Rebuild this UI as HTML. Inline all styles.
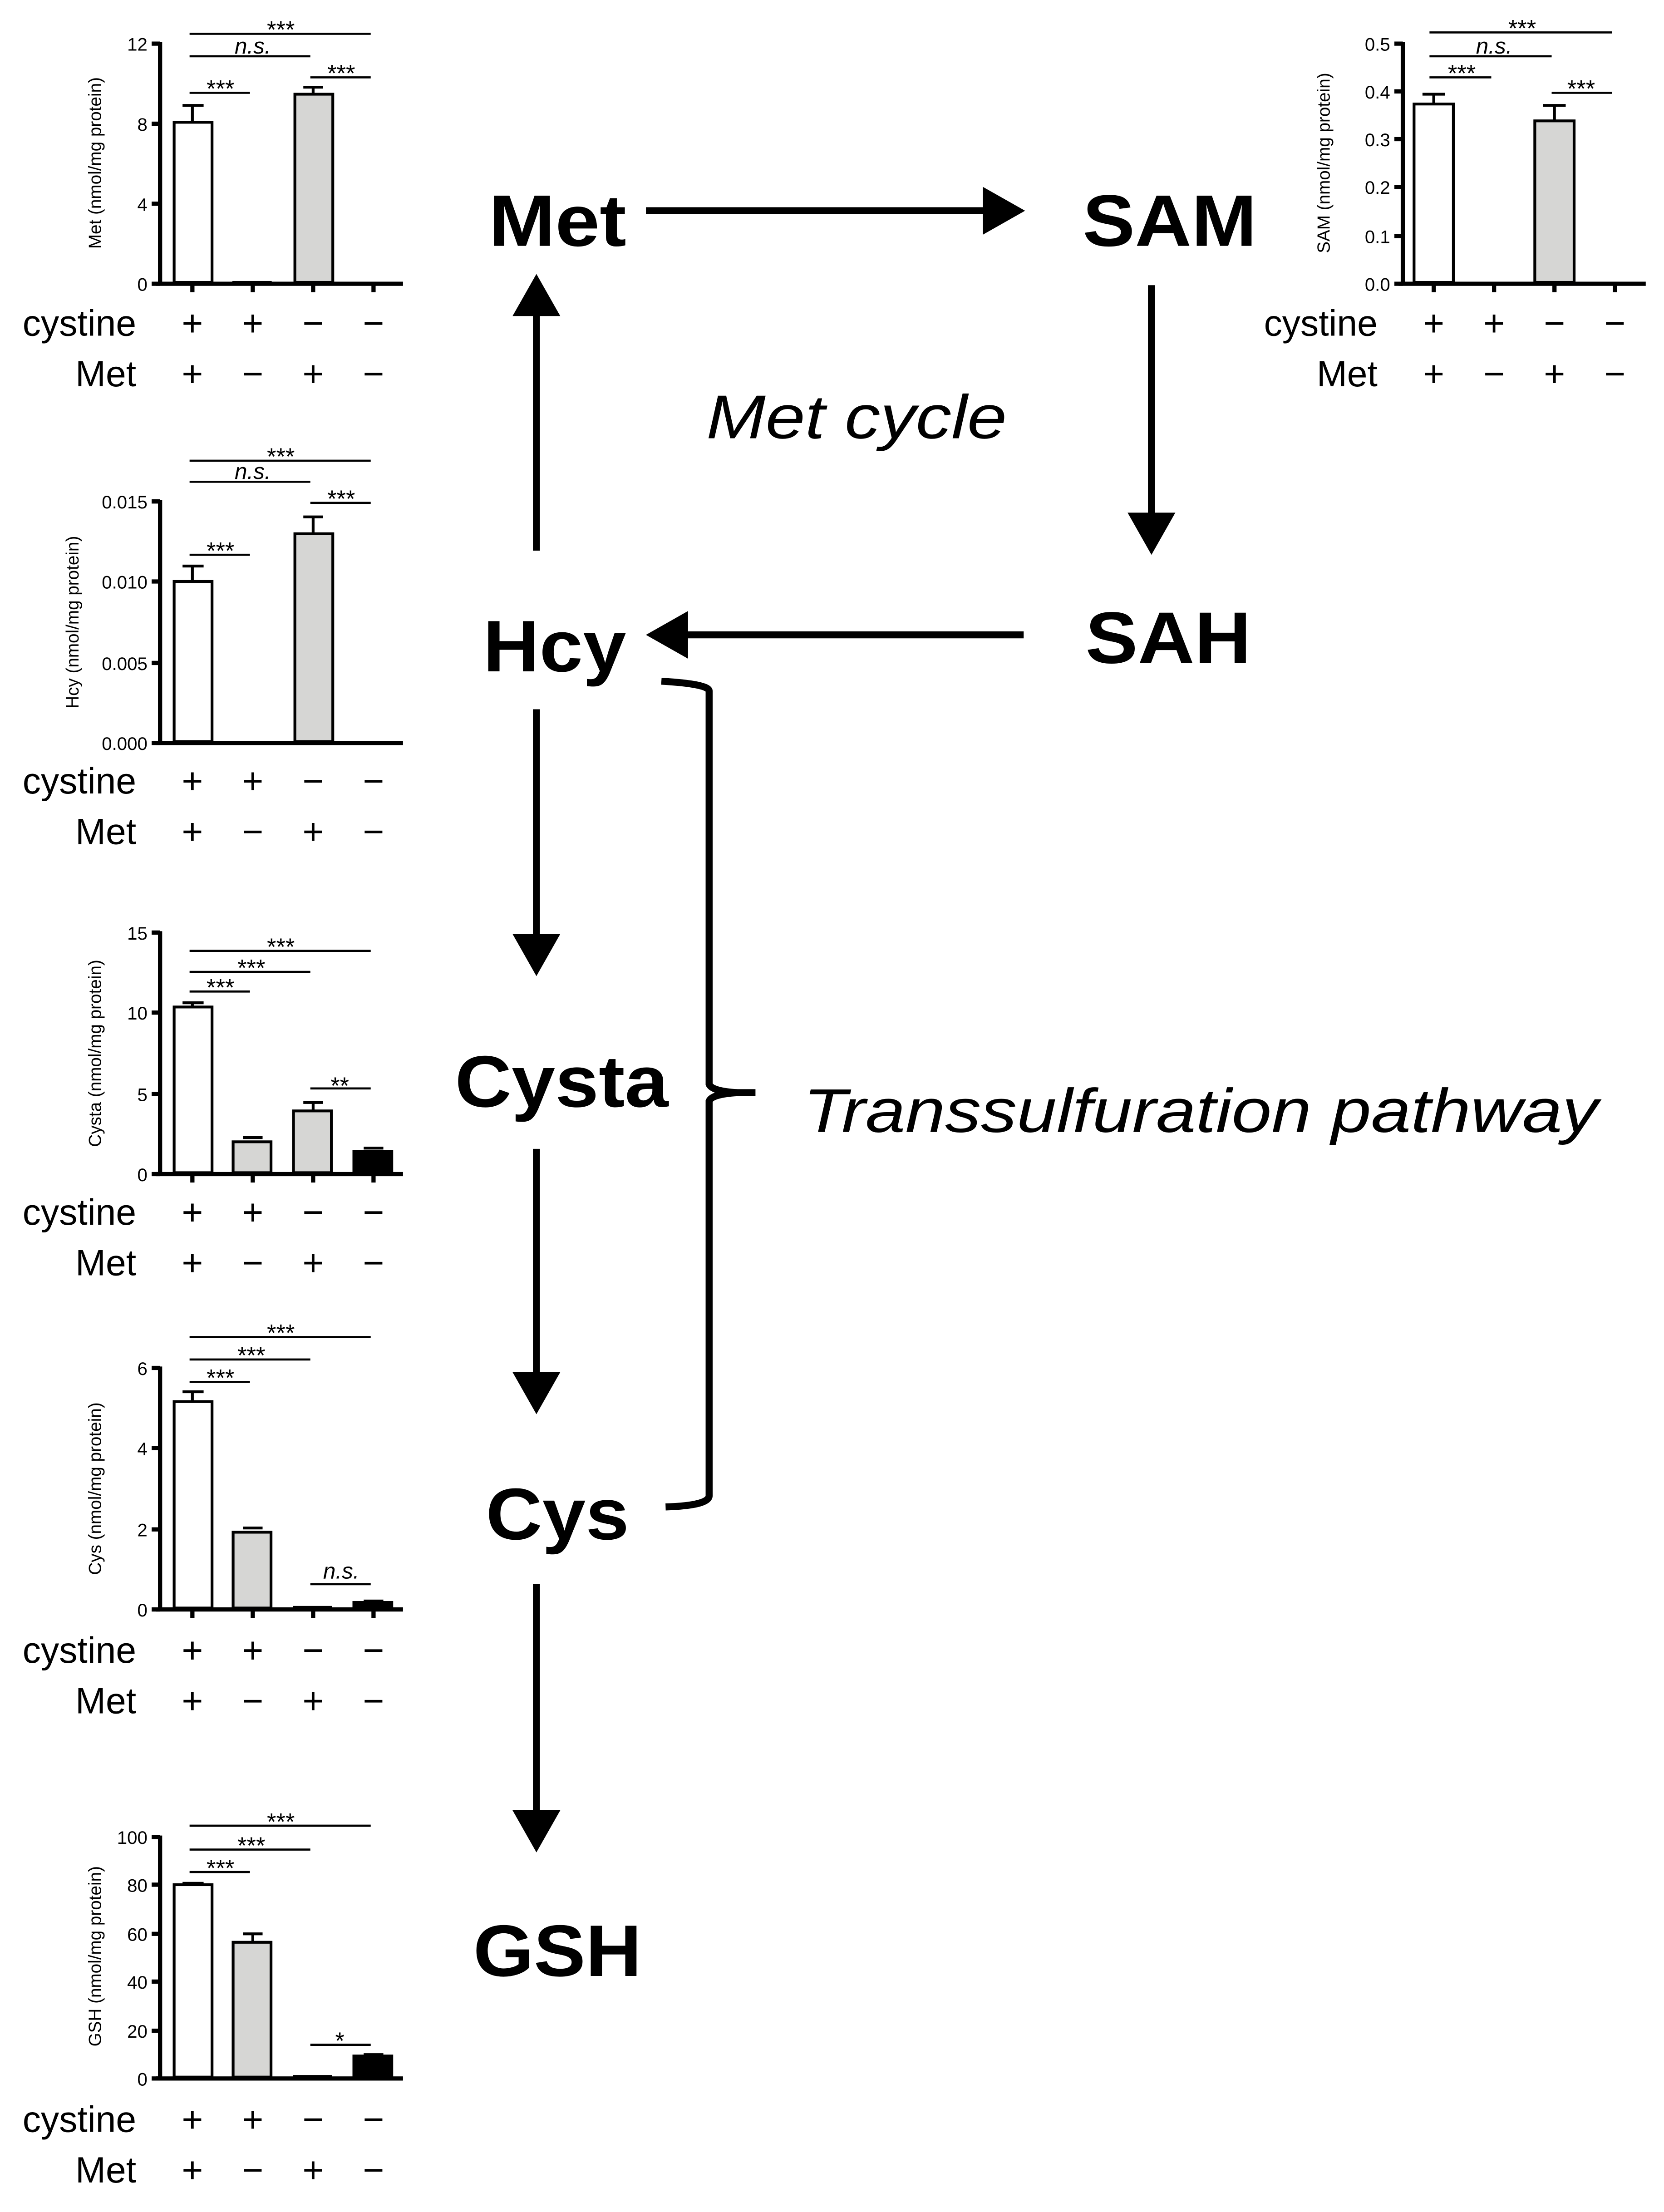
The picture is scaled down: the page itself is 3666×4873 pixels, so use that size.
<!DOCTYPE html>
<html><head><meta charset="utf-8"><style>html,body{margin:0;padding:0;background:#fff}svg{display:block}</style></head>
<body>
<svg xmlns="http://www.w3.org/2000/svg" width="3666" height="4873" viewBox="0 0 1185 1575" font-family="'Liberation Sans', Arial, sans-serif">
<rect width="1185" height="1575" fill="#fff"/>
<defs>
<marker id="ah" viewBox="0 0 10 10" refX="9" refY="5" markerWidth="6" markerHeight="6" markerUnits="strokeWidth" orient="auto"><path d="M0,0 L10,5 L0,10 z" fill="#000"/></marker>
</defs>

<!-- Pathway -->
<g font-weight="bold" font-size="52" text-anchor="middle" fill="#000">
<text x="397" y="175" textLength="98" lengthAdjust="spacingAndGlyphs">Met</text>
<text x="833" y="175" textLength="124" lengthAdjust="spacingAndGlyphs">SAM</text>
<text x="395" y="478" textLength="102" lengthAdjust="spacingAndGlyphs">Hcy</text>
<text x="832" y="472" textLength="118" lengthAdjust="spacingAndGlyphs">SAH</text>
<text x="400" y="788" textLength="152" lengthAdjust="spacingAndGlyphs">Cysta</text>
<text x="397" y="1096" textLength="102" lengthAdjust="spacingAndGlyphs">Cys</text>
<text x="397" y="1407" textLength="120" lengthAdjust="spacingAndGlyphs">GSH</text>
</g>
<g font-style="italic" font-size="44" fill="#000">
<text x="610" y="312" text-anchor="middle" textLength="214" lengthAdjust="spacingAndGlyphs">Met cycle</text>
<text x="572" y="806" textLength="566" lengthAdjust="spacingAndGlyphs">Transsulfuration pathway</text>
</g>
<g stroke="#000" stroke-width="5" fill="none">
<line x1="460" y1="150" x2="703" y2="150"/>
<line x1="820" y1="203" x2="820" y2="368"/>
<line x1="729" y1="452" x2="486" y2="452"/>
<line x1="382" y1="392" x2="382" y2="222"/>
<line x1="382" y1="505" x2="382" y2="668"/>
<line x1="382" y1="818" x2="382" y2="980"/>
<line x1="382" y1="1128" x2="382" y2="1292"/>
<path d="M471,485 Q505,487 505,492 L505,772 Q507,777 525,778 Q507,779 505,784 L505,1065 Q505,1072 474,1073" stroke-width="5"/>
<line x1="520" y1="778" x2="538" y2="778"/>
</g>
<g fill="#000">
<path d="M700,133 L730,150 L700,167 z"/>
<path d="M803,365 L820,395 L837,365 z"/>
<path d="M490,435 L460,452 L490,469 z"/>
<path d="M365,225 L382,195 L399,225 z"/>
<path d="M365,665 L382,695 L399,665 z"/>
<path d="M365,977 L382,1007 L399,977 z"/>
<path d="M365,1289 L382,1319 L399,1289 z"/>
</g>

<!-- ============ Chart 1: Met ============ -->
<g>
<g stroke="#000" fill="none">
<line x1="114" y1="30" x2="114" y2="202" stroke-width="3"/>
<line x1="111" y1="202" x2="287" y2="202" stroke-width="3"/>
<g stroke-width="3"><line x1="108" y1="31" x2="114" y2="31"/><line x1="108" y1="88" x2="114" y2="88"/><line x1="108" y1="145" x2="114" y2="145"/><line x1="108" y1="202" x2="114" y2="202"/>
<line x1="137" y1="202" x2="137" y2="208"/><line x1="180" y1="202" x2="180" y2="208"/><line x1="223" y1="202" x2="223" y2="208"/><line x1="266" y1="202" x2="266" y2="208"/></g>
<rect x="124" y="87" width="27" height="114" fill="#fff" stroke-width="2"/>
<line x1="137" y1="87" x2="137" y2="75" stroke-width="2"/><line x1="130" y1="75" x2="145" y2="75" stroke-width="2"/>
<rect x="166" y="200.5" width="27" height="1" fill="#000" stroke-width="1"/>
<rect x="210" y="67" width="27" height="134" fill="#d6d6d4" stroke-width="2"/>
<line x1="223" y1="67" x2="223" y2="62" stroke-width="2"/><line x1="216" y1="62" x2="230" y2="62" stroke-width="2"/>
<g stroke-width="1.5"><line x1="135" y1="24" x2="264" y2="24"/><line x1="135" y1="40" x2="221" y2="40"/><line x1="135" y1="66" x2="178" y2="66"/><line x1="221" y1="55" x2="264" y2="55"/></g>
</g>
<g font-size="13" text-anchor="end"><text x="105" y="36">12</text><text x="105" y="93">8</text><text x="105" y="150">4</text><text x="105" y="207">0</text></g>
<text transform="translate(72,116) rotate(-90)" font-size="12.5" text-anchor="middle">Met (nmol/mg protein)</text>
<g font-size="17" text-anchor="middle"><text x="200" y="27">***</text><text x="180" y="38" font-style="italic" font-size="16">n.s.</text><text x="157" y="69">***</text><text x="243" y="58">***</text></g>
<g font-size="26"><text x="97" y="239" text-anchor="end">cystine</text><text x="97" y="275" text-anchor="end">Met</text>
<g text-anchor="middle"><text x="137" y="239">+</text><text x="180" y="239">+</text><text x="223" y="239">−</text><text x="266" y="239">−</text>
<text x="137" y="275">+</text><text x="180" y="275">−</text><text x="223" y="275">+</text><text x="266" y="275">−</text></g></g>
</g>

<!-- ============ Chart 2: Hcy ============ -->
<g>
<g stroke="#000" fill="none">
<line x1="114" y1="356" x2="114" y2="529" stroke-width="3"/>
<line x1="111" y1="529" x2="287" y2="529" stroke-width="3"/>
<g stroke-width="3"><line x1="108" y1="357" x2="114" y2="357"/><line x1="108" y1="414" x2="114" y2="414"/><line x1="108" y1="472" x2="114" y2="472"/><line x1="108" y1="529" x2="114" y2="529"/></g>
<rect x="124" y="414" width="27" height="114" fill="#fff" stroke-width="2"/>
<line x1="137" y1="414" x2="137" y2="403" stroke-width="2"/><line x1="130" y1="403" x2="145" y2="403" stroke-width="2"/>
<rect x="210" y="380" width="27" height="148" fill="#d6d6d4" stroke-width="2"/>
<line x1="223" y1="380" x2="223" y2="368" stroke-width="2"/><line x1="216" y1="368" x2="230" y2="368" stroke-width="2"/>
<g stroke-width="1.5"><line x1="135" y1="328" x2="264" y2="328"/><line x1="135" y1="343" x2="221" y2="343"/><line x1="135" y1="395" x2="178" y2="395"/><line x1="221" y1="358" x2="264" y2="358"/></g>
</g>
<g font-size="13" text-anchor="end"><text x="105" y="362">0.015</text><text x="105" y="419">0.010</text><text x="105" y="477">0.005</text><text x="105" y="534">0.000</text></g>
<text transform="translate(56,443) rotate(-90)" font-size="12.5" text-anchor="middle">Hcy (nmol/mg protein)</text>
<g font-size="17" text-anchor="middle"><text x="200" y="331">***</text><text x="180" y="341" font-style="italic" font-size="16">n.s.</text><text x="157" y="398">***</text><text x="243" y="361">***</text></g>
<g font-size="26"><text x="97" y="565" text-anchor="end">cystine</text><text x="97" y="601" text-anchor="end">Met</text>
<g text-anchor="middle"><text x="137" y="565">+</text><text x="180" y="565">+</text><text x="223" y="565">−</text><text x="266" y="565">−</text>
<text x="137" y="601">+</text><text x="180" y="601">−</text><text x="223" y="601">+</text><text x="266" y="601">−</text></g></g>
</g>

<!-- ============ Chart 3: Cysta ============ -->
<g>
<g stroke="#000" fill="none">
<line x1="114" y1="663" x2="114" y2="836" stroke-width="3"/>
<line x1="111" y1="836" x2="287" y2="836" stroke-width="3"/>
<g stroke-width="3"><line x1="108" y1="664" x2="114" y2="664"/><line x1="108" y1="721" x2="114" y2="721"/><line x1="108" y1="779" x2="114" y2="779"/><line x1="108" y1="836" x2="114" y2="836"/>
<line x1="137" y1="836" x2="137" y2="842"/><line x1="180" y1="836" x2="180" y2="842"/><line x1="223" y1="836" x2="223" y2="842"/><line x1="266" y1="836" x2="266" y2="842"/></g>
<rect x="124" y="717" width="27" height="118" fill="#fff" stroke-width="2"/>
<line x1="137" y1="717" x2="137" y2="714" stroke-width="2"/><line x1="130" y1="714" x2="145" y2="714" stroke-width="2"/>
<rect x="166" y="813" width="27" height="22" fill="#d6d6d4" stroke-width="2"/>
<line x1="173" y1="810" x2="187" y2="810" stroke-width="2"/>
<rect x="209" y="791" width="27" height="44" fill="#d6d6d4" stroke-width="2"/>
<line x1="223" y1="791" x2="223" y2="785" stroke-width="2"/><line x1="216" y1="785" x2="230" y2="785" stroke-width="2"/>
<rect x="252" y="820" width="27" height="15" fill="#000" stroke-width="2"/>
<line x1="259" y1="817.5" x2="273" y2="817.5" stroke-width="2"/>
<g stroke-width="1.5"><line x1="135" y1="677" x2="264" y2="677"/><line x1="135" y1="692" x2="221" y2="692"/><line x1="135" y1="706" x2="178" y2="706"/><line x1="221" y1="775" x2="264" y2="775"/></g>
</g>
<g font-size="13" text-anchor="end"><text x="105" y="669">15</text><text x="105" y="726">10</text><text x="105" y="784">5</text><text x="105" y="841">0</text></g>
<text transform="translate(72,750) rotate(-90)" font-size="12.5" text-anchor="middle">Cysta (nmol/mg protein)</text>
<g font-size="17" text-anchor="middle"><text x="200" y="680">***</text><text x="179" y="695">***</text><text x="157" y="709">***</text><text x="242" y="779">**</text></g>
<g font-size="26"><text x="97" y="872" text-anchor="end">cystine</text><text x="97" y="908" text-anchor="end">Met</text>
<g text-anchor="middle"><text x="137" y="872">+</text><text x="180" y="872">+</text><text x="223" y="872">−</text><text x="266" y="872">−</text>
<text x="137" y="908">+</text><text x="180" y="908">−</text><text x="223" y="908">+</text><text x="266" y="908">−</text></g></g>
</g>

<!-- ============ Chart 4: Cys ============ -->
<g>
<g stroke="#000" fill="none">
<line x1="114" y1="973" x2="114" y2="1146" stroke-width="3"/>
<line x1="111" y1="1146" x2="287" y2="1146" stroke-width="3"/>
<g stroke-width="3"><line x1="108" y1="974" x2="114" y2="974"/><line x1="108" y1="1031" x2="114" y2="1031"/><line x1="108" y1="1089" x2="114" y2="1089"/><line x1="108" y1="1146" x2="114" y2="1146"/>
<line x1="137" y1="1146" x2="137" y2="1152"/><line x1="180" y1="1146" x2="180" y2="1152"/><line x1="223" y1="1146" x2="223" y2="1152"/><line x1="266" y1="1146" x2="266" y2="1152"/></g>
<rect x="124" y="998" width="27" height="147" fill="#fff" stroke-width="2"/>
<line x1="137" y1="998" x2="137" y2="991" stroke-width="2"/><line x1="130" y1="991" x2="145" y2="991" stroke-width="2"/>
<rect x="166" y="1091" width="27" height="54" fill="#d6d6d4" stroke-width="2"/>
<line x1="173" y1="1088" x2="187" y2="1088" stroke-width="2"/>
<rect x="209" y="1144" width="27" height="1" fill="#000" stroke-width="1"/>
<rect x="252" y="1141" width="27" height="4" fill="#000" stroke-width="2"/>
<line x1="259" y1="1140" x2="273" y2="1140" stroke-width="2"/>
<g stroke-width="1.5"><line x1="135" y1="952" x2="264" y2="952"/><line x1="135" y1="968" x2="221" y2="968"/><line x1="135" y1="984" x2="178" y2="984"/><line x1="221" y1="1128" x2="264" y2="1128"/></g>
</g>
<g font-size="13" text-anchor="end"><text x="105" y="979">6</text><text x="105" y="1036">4</text><text x="105" y="1094">2</text><text x="105" y="1151">0</text></g>
<text transform="translate(72,1060) rotate(-90)" font-size="12.5" text-anchor="middle">Cys (nmol/mg protein)</text>
<g font-size="17" text-anchor="middle"><text x="200" y="955">***</text><text x="179" y="971">***</text><text x="157" y="987">***</text><text x="243" y="1124" font-style="italic" font-size="16">n.s.</text></g>
<g font-size="26"><text x="97" y="1184" text-anchor="end">cystine</text><text x="97" y="1220" text-anchor="end">Met</text>
<g text-anchor="middle"><text x="137" y="1184">+</text><text x="180" y="1184">+</text><text x="223" y="1184">−</text><text x="266" y="1184">−</text>
<text x="137" y="1220">+</text><text x="180" y="1220">−</text><text x="223" y="1220">+</text><text x="266" y="1220">−</text></g></g>
</g>

<!-- ============ Chart 5: GSH ============ -->
<g>
<g stroke="#000" fill="none">
<line x1="114" y1="1307" x2="114" y2="1480" stroke-width="3"/>
<line x1="111" y1="1480" x2="287" y2="1480" stroke-width="3"/>
<g stroke-width="3"><line x1="108" y1="1308" x2="114" y2="1308"/><line x1="108" y1="1342" x2="114" y2="1342"/><line x1="108" y1="1377" x2="114" y2="1377"/><line x1="108" y1="1411" x2="114" y2="1411"/><line x1="108" y1="1446" x2="114" y2="1446"/><line x1="108" y1="1480" x2="114" y2="1480"/></g>
<rect x="124" y="1342" width="27" height="137" fill="#fff" stroke-width="2"/>
<line x1="130" y1="1341" x2="145" y2="1341" stroke-width="2"/>
<rect x="166" y="1383" width="27" height="96" fill="#d6d6d4" stroke-width="2"/>
<line x1="180" y1="1383" x2="180" y2="1377" stroke-width="2"/><line x1="173" y1="1377" x2="187" y2="1377" stroke-width="2"/>
<rect x="209" y="1478" width="27" height="1" fill="#000" stroke-width="1"/>
<rect x="252" y="1464" width="27" height="15" fill="#000" stroke-width="2"/>
<line x1="259" y1="1463" x2="273" y2="1463" stroke-width="2"/>
<g stroke-width="1.5"><line x1="135" y1="1300" x2="264" y2="1300"/><line x1="135" y1="1317" x2="221" y2="1317"/><line x1="135" y1="1333" x2="178" y2="1333"/><line x1="221" y1="1456" x2="264" y2="1456"/></g>
</g>
<g font-size="13" text-anchor="end"><text x="105" y="1313">100</text><text x="105" y="1347">80</text><text x="105" y="1382">60</text><text x="105" y="1416">40</text><text x="105" y="1451">20</text><text x="105" y="1485">0</text></g>
<text transform="translate(72,1393) rotate(-90)" font-size="12.5" text-anchor="middle">GSH (nmol/mg protein)</text>
<g font-size="17" text-anchor="middle"><text x="200" y="1303">***</text><text x="179" y="1320">***</text><text x="157" y="1336">***</text><text x="242" y="1459">*</text></g>
<g font-size="26"><text x="97" y="1518" text-anchor="end">cystine</text><text x="97" y="1554" text-anchor="end">Met</text>
<g text-anchor="middle"><text x="137" y="1518">+</text><text x="180" y="1518">+</text><text x="223" y="1518">−</text><text x="266" y="1518">−</text>
<text x="137" y="1554">+</text><text x="180" y="1554">−</text><text x="223" y="1554">+</text><text x="266" y="1554">−</text></g></g>
</g>

<!-- ============ Chart 6: SAM ============ -->
<g>
<g stroke="#000" fill="none">
<line x1="999" y1="30" x2="999" y2="202" stroke-width="3"/>
<line x1="996" y1="202" x2="1172" y2="202" stroke-width="3"/>
<g stroke-width="3"><line x1="993" y1="31" x2="999" y2="31"/><line x1="993" y1="65" x2="999" y2="65"/><line x1="993" y1="99" x2="999" y2="99"/><line x1="993" y1="133" x2="999" y2="133"/><line x1="993" y1="168" x2="999" y2="168"/><line x1="993" y1="202" x2="999" y2="202"/>
<line x1="1021" y1="202" x2="1021" y2="208"/><line x1="1064" y1="202" x2="1064" y2="208"/><line x1="1107" y1="202" x2="1107" y2="208"/><line x1="1150" y1="202" x2="1150" y2="208"/></g>
<rect x="1007" y="74" width="28" height="127" fill="#fff" stroke-width="2"/>
<line x1="1021" y1="74" x2="1021" y2="67" stroke-width="2"/><line x1="1013" y1="67" x2="1029" y2="67" stroke-width="2"/>
<rect x="1093" y="86" width="28" height="115" fill="#d6d6d4" stroke-width="2"/>
<line x1="1107" y1="86" x2="1107" y2="75" stroke-width="2"/><line x1="1099" y1="75" x2="1115" y2="75" stroke-width="2"/>
<g stroke-width="1.5"><line x1="1018" y1="23" x2="1148" y2="23"/><line x1="1018" y1="40" x2="1105" y2="40"/><line x1="1018" y1="55" x2="1062" y2="55"/><line x1="1105" y1="66" x2="1148" y2="66"/></g>
</g>
<g font-size="13" text-anchor="end"><text x="990" y="36">0.5</text><text x="990" y="70">0.4</text><text x="990" y="104">0.3</text><text x="990" y="138">0.2</text><text x="990" y="173">0.1</text><text x="990" y="207">0.0</text></g>
<text transform="translate(947,116) rotate(-90)" font-size="12.5" text-anchor="middle">SAM (nmol/mg protein)</text>
<g font-size="17" text-anchor="middle"><text x="1084" y="26">***</text><text x="1064" y="38" font-style="italic" font-size="16">n.s.</text><text x="1041" y="58">***</text><text x="1126" y="69">***</text></g>
<g font-size="26"><text x="981" y="239" text-anchor="end">cystine</text><text x="981" y="275" text-anchor="end">Met</text>
<g text-anchor="middle"><text x="1021" y="239">+</text><text x="1064" y="239">+</text><text x="1107" y="239">−</text><text x="1150" y="239">−</text>
<text x="1021" y="275">+</text><text x="1064" y="275">−</text><text x="1107" y="275">+</text><text x="1150" y="275">−</text></g></g>
</g>
</svg>
</body></html>
